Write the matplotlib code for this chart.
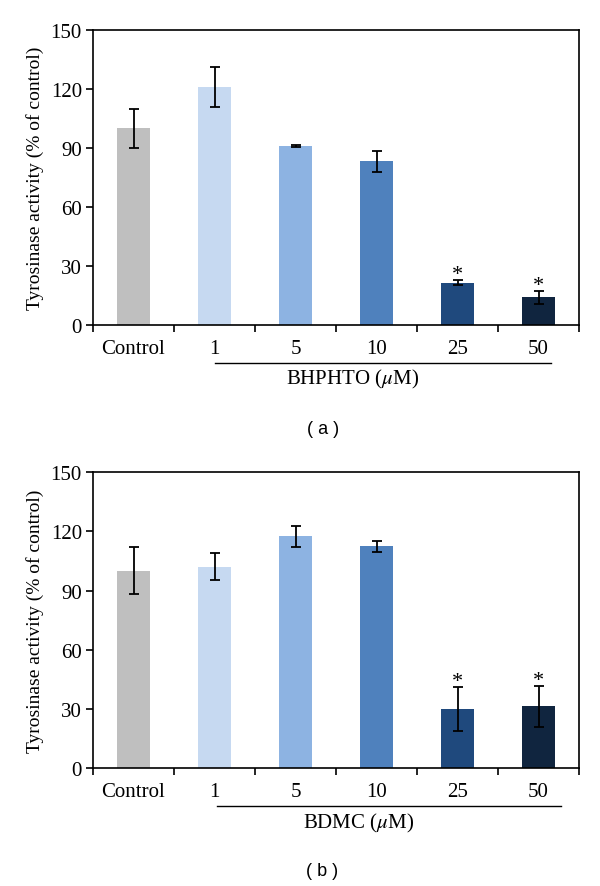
import matplotlib
matplotlib.use("Agg")
import matplotlib.pyplot as plt
import numpy as np

plt.rcParams["font.family"] = ["Liberation Serif", "DejaVu Serif"]
plt.rcParams["mathtext.fontset"] = "stix"

CATEGORIES = ["Control", "1", "5", "10", "25", "50"]
COLORS = ["#BFBFBF", "#C6D9F1", "#8DB3E2", "#4F81BD", "#1F497D", "#10253F"]

# panel (a) BHPHTO
A_MEAN = [100, 121, 91, 83.3, 21.5, 14]
A_ERR = [10, 10, 0.5, 5.3, 1.2, 3.3]
A_STAR = [False, False, False, False, True, True]

# panel (b) BDMC
B_MEAN = [100, 102, 117.5, 112.4, 30, 31.2]
B_ERR = [12, 6.8, 5.3, 2.8, 11, 10.6]
B_STAR = [False, False, False, False, True, True]


def draw_panel(ax, means, errs, stars, compound, line_span, label_x):
    x = np.arange(len(CATEGORIES))
    ax.bar(x, means, width=0.4, color=COLORS, zorder=2)
    ax.errorbar(x, means, yerr=errs, fmt="none", ecolor="black",
                elinewidth=1.3, capsize=3.5, capthick=1.3, zorder=3)
    for xi, m, e, s in zip(x, means, errs, stars):
        if s:
            ax.text(xi, m + e - 2.0, "*", ha="center", va="bottom", fontsize=16)

    ax.set_xlim(-0.5, len(CATEGORIES) - 0.5)
    ax.set_ylim(0, 150)
    ax.set_yticks(np.arange(0, 151, 30))
    ax.set_xticks(np.arange(-0.5, len(CATEGORIES), 1.0))
    ax.set_xticklabels([])
    ax.set_xticks(x, minor=True)
    ax.set_xticklabels(CATEGORIES, minor=True)
    ax.tick_params(axis="x", which="major", direction="out", length=5, width=1.2)
    ax.tick_params(axis="x", which="minor", length=0, pad=10, labelsize=15)
    ax.tick_params(axis="y", direction="out", length=5, width=1.2, pad=3, labelsize=15)
    for sp in ax.spines.values():
        sp.set_linewidth(1.2)
    ax.set_ylabel("Tyrosinase activity (% of control)", fontsize=14, labelpad=5)

    tr = ax.get_xaxis_transform()
    ax.plot(line_span, [-0.128, -0.128], color="black", lw=1.0,
            transform=tr, clip_on=False)
    ax.text(label_x, -0.183, compound + r" ($\mu$M)", transform=tr,
            ha="center", va="center", fontsize=15)


fig = plt.figure(figsize=(6.0, 8.87), dpi=100)
ax_a = fig.add_axes([0.155, 0.6325, 0.81, 0.3325])
ax_b = fig.add_axes([0.155, 0.133, 0.81, 0.3335])

draw_panel(ax_a, A_MEAN, A_ERR, A_STAR, "BHPHTO", [1.0, 5.15], 2.7)
draw_panel(ax_b, B_MEAN, B_ERR, B_STAR, "BDMC", [1.03, 5.28], 2.78)

fig.text(0.538, 0.516, "( a )", ha="center", va="center", fontsize=13,
         family=["Liberation Sans", "DejaVu Sans"])
fig.text(0.537, 0.017, "( b )", ha="center", va="center", fontsize=13,
         family=["Liberation Sans", "DejaVu Sans"])

fig.savefig("out.png", dpi=100)
